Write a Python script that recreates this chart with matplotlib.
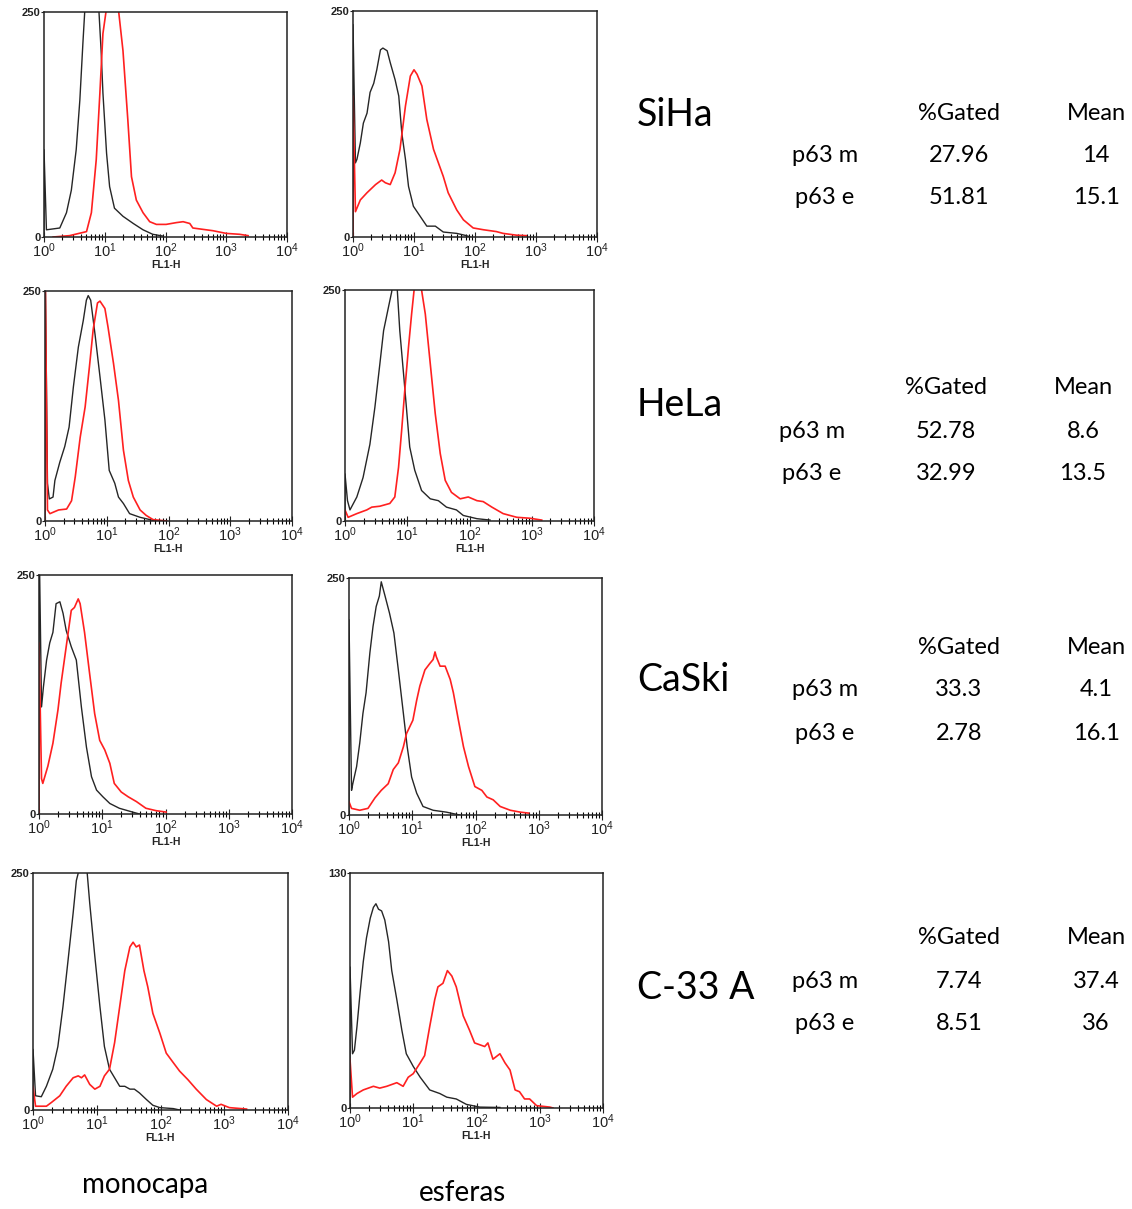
import numpy as np
import matplotlib
matplotlib.use("Agg")
import matplotlib.pyplot as plt
from matplotlib.ticker import FixedLocator, NullFormatter

# ---------------- data (x in decades of FL1-H, y = counts) ----------------
# SiHa monocapa
siha_m_black_x = [0, 0, 0.04, 0.26, 0.37, 0.45, 0.53, 0.59, 0.64, 0.67, 0.78, 0.905, 0.94, 0.97, 1.03, 1.08, 1.16, 1.30, 1.47, 1.63, 1.79, 1.96]
siha_m_black_y = [0, 97, 8, 10, 27, 52, 97, 152, 215, 250, 380, 250, 207, 160, 93, 56, 32, 23, 15, 8, 3, 1]
siha_m_red_x = [0.15, 0.42, 0.70, 0.78, 0.86, 0.92, 0.97, 1.02, 1.12, 1.23, 1.30, 1.38, 1.44, 1.52, 1.63, 1.74, 1.85, 2.01, 2.18, 2.29, 2.40, 2.45, 2.56, 2.78, 3.00, 3.22, 3.36]
siha_m_red_y = [0, 1.5, 6, 27, 86, 160, 226, 250, 400, 250, 207, 130, 67, 41, 27, 17, 14, 14, 16, 17, 15, 10, 9, 7, 4, 3, 1.5]

# SiHa esferas
siha_e_black_x = [0, 0, 0.04, 0.065, 0.12, 0.17, 0.23, 0.28, 0.34, 0.39, 0.45, 0.49, 0.56, 0.61, 0.69, 0.75, 0.80, 0.86, 0.91, 0.99, 1.10, 1.21, 1.35, 1.48, 1.70, 1.86, 1.92]
siha_e_black_y = [0, 235, 82, 86, 104, 126, 137, 160, 170, 185, 207, 209, 206, 193, 174, 156, 115, 86, 56, 34, 23, 12, 12, 5.5, 4, 1.5, 0]
siha_e_red_x = [0, 0, 0.04, 0.12, 0.23, 0.37, 0.47, 0.53, 0.61, 0.69, 0.77, 0.86, 0.94, 1.00, 1.05, 1.13, 1.21, 1.32, 1.40, 1.48, 1.56, 1.70, 1.81, 1.97, 2.14, 2.35, 2.46, 2.68, 2.84]
siha_e_red_y = [0, 156, 28, 41, 49, 58, 63, 60, 58, 71, 97, 145, 178, 185, 180, 167, 130, 97, 82, 67, 49, 30, 19, 10, 8, 6, 4, 2, 1.5]

# HeLa monocapa
hela_m_black_x = [0, 0, 0.04, 0.07, 0.13, 0.16, 0.24, 0.32, 0.39, 0.46, 0.54, 0.62, 0.67, 0.70, 0.74, 0.81, 0.89, 0.97, 1.04, 1.13, 1.19, 1.27, 1.37, 1.54, 1.70, 1.78]
hela_m_black_y = [0, 300, 41, 24, 26, 44, 64, 81, 102, 146, 189, 218, 240, 245, 240, 203, 157, 110, 55, 41, 26, 19, 8, 4, 1.5, 0]
hela_m_red_x = [0, 0, 0.04, 0.08, 0.22, 0.35, 0.43, 0.49, 0.57, 0.65, 0.72, 0.78, 0.85, 0.89, 0.97, 1.02, 1.11, 1.19, 1.27, 1.35, 1.43, 1.54, 1.64, 1.75, 1.97]
hela_m_red_y = [0, 300, 12, 8, 12, 13, 22, 48, 91, 124, 168, 208, 237, 239, 231, 211, 171, 131, 77, 44, 26, 12, 6, 1.5, 0]

# HeLa esferas
hela_e_black_x = [0, 0, 0.04, 0.08, 0.19, 0.29, 0.40, 0.48, 0.56, 0.62, 0.70, 0.75, 0.80, 0.84, 0.88, 0.95, 0.99, 1.04, 1.12, 1.23, 1.37, 1.50, 1.63, 1.79, 1.90, 2.12, 2.33]
hela_e_black_y = [0, 51, 22, 12, 26, 47, 83, 123, 170, 206, 232, 248, 280, 250, 206, 152, 120, 80, 55, 33, 24, 22, 15, 12, 6, 2.5, 1]
hela_e_red_x = [0, 0.05, 0.19, 0.35, 0.43, 0.56, 0.72, 0.80, 0.86, 0.91, 0.96, 1.02, 1.07, 1.11, 1.15, 1.23, 1.29, 1.37, 1.45, 1.53, 1.61, 1.71, 1.85, 1.98, 2.12, 2.22, 2.36, 2.54, 2.76, 2.97, 3.16]
hela_e_red_y = [12, 4, 8, 12, 15, 16, 19, 26, 58, 98, 141, 188, 224, 250, 300, 250, 224, 170, 116, 73, 44, 31, 24, 26, 22, 21, 15, 8, 4, 3, 1]

# CaSki monocapa
caski_m_black_x = [0, 0, 0.04, 0.07, 0.12, 0.17, 0.22, 0.27, 0.33, 0.38, 0.43, 0.51, 0.59, 0.67, 0.75, 0.83, 0.91, 1.01, 1.12, 1.27, 1.48, 1.59]
caski_m_black_y = [0, 300, 112, 133, 161, 179, 190, 220, 222, 210, 192, 175, 161, 112, 70, 39, 25, 18, 11, 6, 2, 0]
caski_m_red_x = [0, 0, 0.04, 0.06, 0.14, 0.22, 0.30, 0.35, 0.43, 0.51, 0.56, 0.62, 0.65, 0.72, 0.80, 0.88, 0.96, 1.04, 1.12, 1.19, 1.30, 1.41, 1.54, 1.69, 1.85, 2.01]
caski_m_red_y = [0, 179, 37, 32, 50, 74, 109, 137, 175, 213, 216, 225, 220, 190, 147, 105, 77, 67, 53, 32, 23, 18, 13, 6, 3.5, 2]

# CaSki esferas
caski_e_black_x = [0, 0, 0.04, 0.06, 0.12, 0.17, 0.22, 0.27, 0.33, 0.38, 0.43, 0.48, 0.51, 0.57, 0.64, 0.71, 0.78, 0.86, 0.92, 0.99, 1.07, 1.17, 1.33, 1.54, 1.75]
caski_e_black_y = [0, 206, 26, 33, 51, 76, 107, 129, 171, 199, 220, 231, 246, 231, 213, 192, 153, 107, 72, 40, 23, 9, 5, 3, 0]
caski_e_red_x = [0, 0.04, 0.17, 0.30, 0.41, 0.51, 0.62, 0.70, 0.78, 0.86, 0.91, 0.96, 1.01, 1.07, 1.12, 1.20, 1.28, 1.33, 1.36, 1.38, 1.44, 1.52, 1.60, 1.65, 1.73, 1.81, 1.89, 1.99, 2.10, 2.18, 2.28, 2.39, 2.55, 2.71, 2.84]
caski_e_red_y = [14, 7, 5, 7, 18, 26, 33, 48, 55, 72, 86, 93, 100, 121, 136, 153, 160, 164, 172, 167, 157, 157, 143, 129, 100, 72, 51, 30, 26, 19, 16, 9, 5, 3, 2]

# C-33 A monocapa
c33_m_black_x = [0, 0, 0.04, 0.13, 0.21, 0.31, 0.39, 0.47, 0.55, 0.63, 0.68, 0.71, 0.77, 0.85, 0.89, 0.97, 1.05, 1.12, 1.20, 1.28, 1.36, 1.44, 1.52, 1.59, 1.67, 1.78, 1.88, 1.99, 2.20, 2.30]
c33_m_black_y = [0, 64, 15, 14, 25, 43, 67, 109, 158, 208, 242, 250, 275, 250, 218, 162, 109, 67, 43, 34, 25, 25, 22, 22, 18, 11, 5, 2.5, 1.5, 0]
c33_m_red_x = [0, 0.04, 0.21, 0.29, 0.42, 0.52, 0.63, 0.71, 0.76, 0.81, 0.89, 0.97, 1.05, 1.12, 1.20, 1.28, 1.36, 1.44, 1.52, 1.57, 1.62, 1.67, 1.74, 1.80, 1.88, 1.99, 2.09, 2.20, 2.30, 2.43, 2.56, 2.72, 2.88, 2.95, 3.08, 3.35]
c33_m_red_y = [25, 4, 4, 8, 15, 25, 34, 36, 34, 37, 27, 22, 25, 36, 43, 71, 109, 147, 172, 177, 172, 174, 147, 130, 102, 81, 60, 50, 41, 32, 22, 11, 4, 6, 2.5, 1]

# C-33 A esferas (y axis max 130)
c33_e_black_x = [0, 0, 0.04, 0.07, 0.11, 0.16, 0.21, 0.26, 0.32, 0.37, 0.41, 0.45, 0.50, 0.55, 0.61, 0.66, 0.74, 0.82, 0.89, 1.00, 1.11, 1.26, 1.42, 1.53, 1.68, 1.84, 2.05, 2.37]
c33_e_black_y = [0, 78, 30, 32, 45, 64, 81, 94, 105, 111, 113, 110, 109, 104, 92, 76, 60, 43, 30, 23, 17, 10, 8, 6, 5, 2, 0.5, 0.3]
c33_e_red_x = [0, 0.04, 0.11, 0.21, 0.37, 0.47, 0.58, 0.74, 0.84, 0.92, 1.00, 1.11, 1.18, 1.26, 1.34, 1.39, 1.47, 1.54, 1.61, 1.68, 1.79, 1.89, 1.97, 2.05, 2.13, 2.18, 2.26, 2.37, 2.45, 2.53, 2.61, 2.68, 2.76, 2.84, 2.95, 3.16, 3.21]
c33_e_red_y = [27, 6, 8, 10, 12, 11, 12, 14, 12, 17, 19, 25, 29, 45, 60, 67, 69, 76, 73, 67, 51, 43, 36, 35, 34, 36, 27, 30, 25, 21, 10, 9, 5, 5, 1.3, 0.5, 0]

cell_lines = ["SiHa", "HeLa", "CaSki", "C-33 A"]
col_headers = ["%Gated", "Mean"]
row_names = ["p63 m", "p63 e"]
gated_values = [["27.96", "51.81"], ["52.78", "32.99"], ["33.3", "2.78"], ["7.74", "8.51"]]
mean_values = [["14", "15.1"], ["8.6", "13.5"], ["4.1", "16.1"], ["37.4", "36"]]
y_max = [[250, 250], [250, 250], [250, 250], [250, 130]]
decade_ticks = [1, 10, 100, 1000, 10000]
decade_labels = [r"$10^{0}$", r"$10^{1}$", r"$10^{2}$", r"$10^{3}$", r"$10^{4}$"]
col_titles = ["monocapa", "esferas"]

panels = [
    [(siha_m_black_x, siha_m_black_y, siha_m_red_x, siha_m_red_y),
     (siha_e_black_x, siha_e_black_y, siha_e_red_x, siha_e_red_y)],
    [(hela_m_black_x, hela_m_black_y, hela_m_red_x, hela_m_red_y),
     (hela_e_black_x, hela_e_black_y, hela_e_red_x, hela_e_red_y)],
    [(caski_m_black_x, caski_m_black_y, caski_m_red_x, caski_m_red_y),
     (caski_e_black_x, caski_e_black_y, caski_e_red_x, caski_e_red_y)],
    [(c33_m_black_x, c33_m_black_y, c33_m_red_x, c33_m_red_y),
     (c33_e_black_x, c33_e_black_y, c33_e_red_x, c33_e_red_y)],
]

# ---------------- layout (pixel boxes: left, right, top, bottom) ----------------
W, H = 1132, 1209
boxes = [
    [(44, 287, 12, 237), (353, 597, 11, 237)],
    [(45, 292, 291, 521), (345, 594, 290, 521)],
    [(39, 292, 575, 814), (349, 602, 578, 815)],
    [(33, 288, 873, 1110), (350, 603, 873, 1108)],
]

fig = plt.figure(figsize=(W / 100, H / 100), dpi=100)
fig.patch.set_facecolor("white")
plt.rcParams["mathtext.fontset"] = "custom"
plt.rcParams["mathtext.rm"] = "Liberation Sans"
plt.rcParams["mathtext.it"] = "Liberation Sans"

minor_locs = [m * 10 ** d for d in range(4) for m in range(2, 10)]

for r in range(4):
    for c in range(2):
        l, rr, t, b = boxes[r][c]
        ax = fig.add_axes([l / W, 1 - b / H, (rr - l) / W, (b - t) / H])
        bx, by, rx, ry = panels[r][c]
        ax.plot(np.power(10.0, bx), by, color="#262626", lw=1.0)
        ax.plot(np.power(10.0, rx), ry, color="#ff2020", lw=1.2)
        ax.set_xscale("log")
        ax.set_xlim(1, 10000)
        ax.set_ylim(0, y_max[r][c])
        ax.xaxis.set_major_locator(FixedLocator(decade_ticks))
        ax.set_xticklabels(decade_labels)
        ax.xaxis.set_minor_locator(FixedLocator(minor_locs))
        ax.xaxis.set_minor_formatter(NullFormatter())
        ax.tick_params(axis="x", which="major", direction="inout", length=7, width=0.8,
                       labelsize=10.5, pad=0, colors="#222222")
        ax.tick_params(axis="x", which="minor", direction="inout", length=5, width=0.8)
        ax.set_yticks([0, y_max[r][c]])
        ax.set_yticklabels(["0", str(y_max[r][c])])
        ax.tick_params(axis="y", direction="out", length=2, width=0.8, labelsize=8, pad=0.5,
                       colors="#222222")
        for lab in ax.get_yticklabels():
            lab.set_fontweight("bold")
            lab.set_family(["Liberation Sans", "DejaVu Sans"])
        ax.set_xlabel("FL1-H", fontsize=7.5, fontweight="bold", labelpad=0, color="#222222",
                      family=["Liberation Sans", "DejaVu Sans"])
        for s in ax.spines.values():
            s.set_linewidth(1.1)
            s.set_color("#222222")

txt = dict(family=["Lato", "DejaVu Sans"], color="black")

# row labels and tables
label_y = [115, 405, 680, 988]
table_rows = [(113, 155, 198), (388, 432, 474), (647, 690, 733), (938, 981, 1024)]
table_x = [(825, 959, 1096), (812, 946, 1083), (825, 959, 1096), (825, 959, 1096)]
for r in range(4):
    fig.text(637 / W, 1 - label_y[r] / H, cell_lines[r], fontsize=27, ha="left", va="center", **txt)
    hy, y1, y2 = table_rows[r]
    xn, xg, xm = table_x[r]
    fig.text(xg / W, 1 - hy / H, col_headers[0], fontsize=17, ha="center", va="center", **txt)
    fig.text(xm / W, 1 - hy / H, col_headers[1], fontsize=17, ha="center", va="center", **txt)
    for k, yy in enumerate((y1, y2)):
        fig.text(xn / W, 1 - yy / H, row_names[k], fontsize=17, ha="center", va="center", **txt)
        fig.text(xg / W, 1 - yy / H, gated_values[r][k], fontsize=17, ha="center", va="center", **txt)
        fig.text(xm / W, 1 - yy / H, mean_values[r][k], fontsize=17, ha="center", va="center", **txt)

fig.text(145 / W, 1 - 1185 / H, col_titles[0], fontsize=20, ha="center", va="center", **txt)
fig.text(463 / W, 1 - 1193 / H, col_titles[1], fontsize=20, ha="center", va="center", **txt)

fig.savefig("out.png", dpi=100, facecolor="white")
